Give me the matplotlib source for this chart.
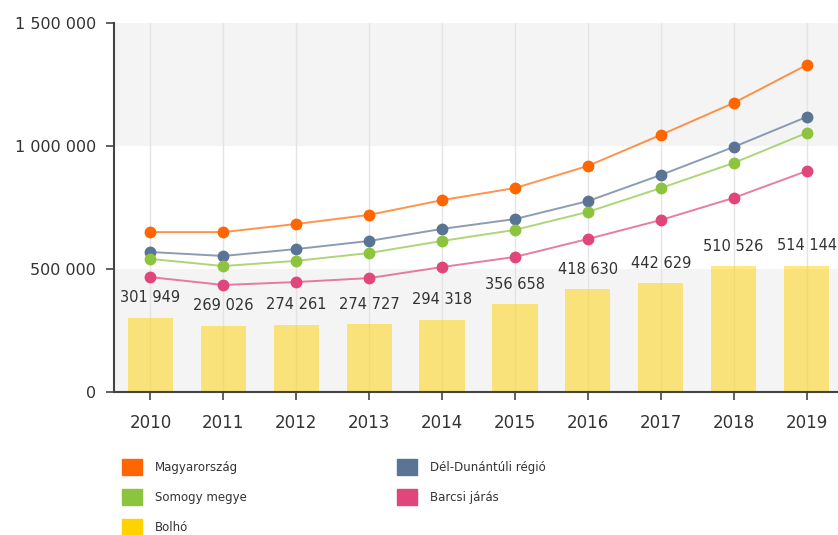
import matplotlib.pyplot as plt
from matplotlib.patches import Patch

plt.rcParams['font.family'] = ['DejaVu Sans']

# adatok
years = [2010, 2011, 2012, 2013, 2014, 2015, 2016, 2017, 2018, 2019]
bolho = [301949, 269026, 274261, 274727, 294318, 356658, 418630, 442629, 510526, 514144]
magyarorszag = [650000, 650000, 683000, 720000, 780000, 829000, 919000, 1045000, 1175000, 1329000]
del_dunantul = [569000, 553000, 581000, 614000, 663000, 703000, 776000, 882000, 996000, 1118000]
somogy = [541000, 512000, 533000, 565000, 614000, 659000, 732000, 829000, 931000, 1053000]
barcs = [467000, 435000, 447000, 463000, 508000, 549000, 622000, 699000, 789000, 898000]
yticks = [0, 500000, 1000000, 1500000]

c_orange = '#ff6600'
c_blue = '#5b7395'
c_green = '#8cc43e'
c_pink = '#e0457b'
c_yellow = '#ffd200'

def fmt(v):
    return f'{v:,}'.replace(',', ' ')

fig = plt.figure(figsize=(8.38, 5.35), dpi=100)
ax = fig.add_axes([0.136, 0.2673, 0.870, 0.6897])
x = list(range(len(years)))

# sávos háttér
ax.axhspan(0, 500000, color='#f4f4f4', zorder=0, lw=0)
ax.axhspan(1000000, 1500000, color='#f4f4f4', zorder=0, lw=0)
for xi in x:
    ax.axvline(xi, color='#e4e4e4', lw=1, zorder=1)

ax.bar(x, bolho, width=0.62, color=c_yellow, alpha=0.5, zorder=2, lw=0)
for xi, v in zip(x, bolho):
    ax.annotate(fmt(v), (xi, v), xytext=(0, 9), textcoords='offset points',
                ha='center', va='bottom', fontsize=10.5, color='#333333', zorder=5)

series = [(magyarorszag, c_orange), (del_dunantul, c_blue), (somogy, c_green), (barcs, c_pink)]
for vals, col in series:
    ax.plot(x, vals, color=col, lw=1.4, alpha=0.7, zorder=3)
    ax.plot(x, vals, 'o', color=col, ms=7.5, zorder=4)

ax.set_xlim(-0.5, 9.5)
ax.set_ylim(0, 1500000)
ax.set_yticks(yticks)
ax.set_yticklabels([fmt(v) for v in yticks])
ax.set_xticks(x)
ax.set_xticklabels([str(y) for y in years])
ax.tick_params(axis='y', length=6, width=1.2, color='#444444', labelsize=11.5, labelcolor='#333333', pad=7)
ax.tick_params(axis='x', length=6, width=1.2, color='#444444', labelsize=12, labelcolor='#333333', pad=10)
for s in ['top', 'right']:
    ax.spines[s].set_visible(False)
for s in ['left', 'bottom']:
    ax.spines[s].set_color('#444444')
    ax.spines[s].set_linewidth(1.5)

handles = [Patch(color=c_orange, label='Magyarország'),
           Patch(color=c_green, label='Somogy megye'),
           Patch(color=c_yellow, label='Bolhó'),
           Patch(color=c_blue, label='Dél-Dunántúli régió'),
           Patch(color=c_pink, label='Barcsi járás')]
fig.legend(handles=handles, ncol=2, loc='upper left', bbox_to_anchor=(0.1456, 0.142),
           frameon=False, fontsize=8.5, handlelength=1.7, handleheight=1.7,
           handletextpad=1.1, labelspacing=1.2, columnspacing=12.7, labelcolor='#333333',
           borderaxespad=0, borderpad=0)

fig.savefig('out.png', dpi=100)
